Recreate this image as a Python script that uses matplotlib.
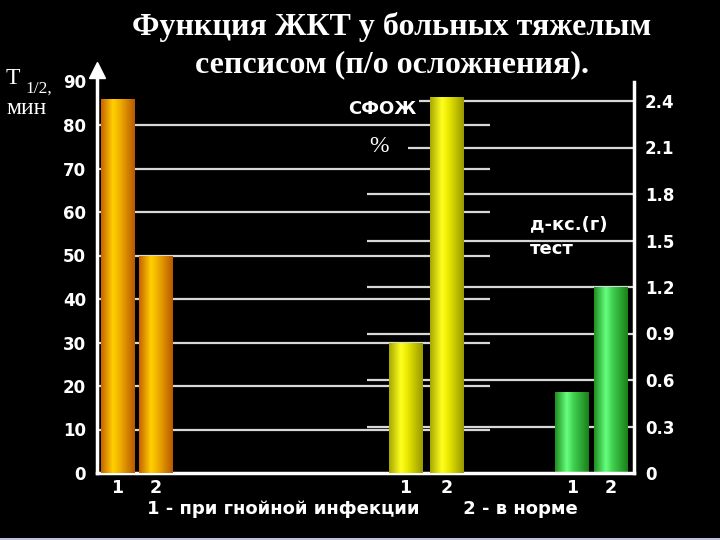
import numpy as np
import matplotlib
matplotlib.use("Agg")
import matplotlib.pyplot as plt
from matplotlib.colors import LinearSegmentedColormap
from matplotlib.patches import Rectangle

# ---- data ----
title_lines = ["Функция ЖКТ у больных тяжелым", "сепсисом (п/о осложнения)."]
bar_labels = ["1", "2"]
t_half_min = [86, 50]          # T1/2, мин (left axis)
sfozh_pct = [30, 86.5]         # СФОЖ, %
dks_test = [0.52, 1.2]         # д-кс.(г) тест (right axis)
left_ticks = [0, 10, 20, 30, 40, 50, 60, 70, 80, 90]
right_ticks = [0, 0.3, 0.6, 0.9, 1.2, 1.5, 1.8, 2.1, 2.4]
right_tick_labels = ["0", "0.3", "0.6", "0.9", "1.2", "1.5", "1.8", "2.1", "2.4"]
legend_text = "1 - при гнойной инфекции       2 - в норме"

# ---- layout (pixel based) ----
W, H = 720, 540
x0, x1 = 97, 634          # axis x extent in px
ybot, ytop = 473, 70      # axes bottom / top in px
left_px_per_unit = 4.35
right_px_per_unit = 155.0

fig = plt.figure(figsize=(7.2, 5.4), dpi=100, facecolor="black")
ax = fig.add_axes([x0 / W, 1 - ybot / H, (x1 - x0) / W, (ybot - ytop) / H])
ax2 = ax.twinx()
ax.set_zorder(ax2.get_zorder() + 1)
ax.patch.set_visible(False)
ax2.set_facecolor("black")

width = 34
pos_orange = [20.5, 58.5]
pos_yellow = [308.5, 349.5]
pos_green = [475, 513.5]

def grad_bars(axis, xs, vals, colors):
    cmap = LinearSegmentedColormap.from_list("g", list(zip([0, 0.35, 0.55, 1], colors)))
    grad = np.linspace(0, 1, 64).reshape(1, -1)
    for x, v in zip(xs, vals):
        b = axis.bar(x, v, width=width, color="none", edgecolor="none", zorder=3)[0]
        im = axis.imshow(grad, cmap=cmap, aspect="auto", zorder=3,
                         extent=[b.get_x(), b.get_x() + b.get_width(), 0, b.get_height()])
        im.set_clip_path(b)

# gridlines
grid_c = "#d8d8d8"
ax.hlines(left_ticks[1:-1], 0, 490 - x0, color=grid_c, lw=1.6, zorder=1)
ax2.hlines(right_ticks[1:], 367 - x0, x1 - x0, color=grid_c, lw=1.6, zorder=1)

grad_bars(ax, pos_orange, t_half_min, ["#c86400", "#ffd000", "#f0b000", "#b85a00"])
grad_bars(ax, pos_yellow, sfozh_pct, ["#a8a800", "#ffff20", "#e8e800", "#9a9a00"])
grad_bars(ax2, pos_green, dks_test, ["#209020", "#66ff80", "#40d050", "#1a801a"])
ax.set_xlim(0, x1 - x0)
ax.set_ylim(0, (ybot - ytop) / left_px_per_unit)
ax2.set_ylim(0, (ybot - ytop) / right_px_per_unit)

sans = "DejaVu Sans"
# spines
for a in (ax, ax2):
    for s in a.spines.values():
        s.set_visible(False)
ax.spines["left"].set_visible(True)
ax.spines["left"].set_color("white")
ax.spines["left"].set_linewidth(2.5)
ax.spines["bottom"].set_visible(True)
ax.spines["bottom"].set_color("white")
ax.spines["bottom"].set_linewidth(2.5)
ax2.spines["right"].set_visible(True)
ax2.spines["right"].set_color("white")
ax2.spines["right"].set_linewidth(2.5)
ax2.spines["right"].set_bounds(0, (ybot - 82) / right_px_per_unit)
ax.plot([0], [1], marker="^", markersize=11, color="white", transform=ax.transAxes,
        clip_on=False, zorder=5)

ax.set_yticks(left_ticks)
ax.set_yticklabels([str(t) for t in left_ticks], fontfamily=sans, fontweight="bold")
ax.tick_params(axis="y", length=0, pad=8, labelcolor="white", labelsize=12)
ax2.set_yticks(right_ticks)
ax2.set_yticklabels(right_tick_labels, fontfamily=sans, fontweight="bold")
ax2.tick_params(axis="y", length=0, pad=8, labelcolor="white", labelsize=12)
ax.set_xticks(pos_orange + pos_yellow + pos_green)
ax.set_xticklabels(bar_labels * 3, fontfamily=sans, fontweight="bold")
ax.tick_params(axis="x", length=0, pad=4, labelcolor="white", labelsize=12.5)

# texts
serif = "Liberation Serif"
fig.text(392 / W, 1 - 27 / H, title_lines[0], ha="center", va="center", color="white",
         fontfamily=serif, fontweight="bold", fontsize=23)
fig.text(392 / W, 1 - 65 / H, title_lines[1], ha="center", va="center", color="white",
         fontfamily=serif, fontweight="bold", fontsize=23)
fig.text(6 / W, 1 - 79 / H, "T", ha="left", va="center", color="white",
         fontfamily=serif, fontsize=17)
fig.text(25 / W, 1 - 89 / H, "1/2,", ha="left", va="center", color="white",
         fontfamily=serif, fontsize=12.5)
fig.text(6 / W, 1 - 109 / H, "мин", ha="left", va="center", color="white",
         fontfamily=serif, fontsize=17)
fig.text(382 / W, 1 - 109 / H, "СФОЖ", ha="center", va="center", color="white",
         fontfamily=sans, fontweight="bold", fontsize=13,
         bbox=dict(facecolor="black", edgecolor="none", pad=2), zorder=10)
fig.add_artist(Rectangle((362 / W, 1 - 158 / H), 46 / W, 22 / H, transform=fig.transFigure,
                         facecolor="black", edgecolor="none", zorder=9))
fig.text(379 / W, 1 - 146 / H, "%", ha="center", va="center", color="white",
         fontfamily=serif, fontsize=17, zorder=10)
fig.text(530 / W, 1 - 224 / H, "д-кс.(г)", ha="left", va="center", color="white",
         fontfamily=sans, fontweight="bold", fontsize=13)
fig.text(530 / W, 1 - 249 / H, "тест", ha="left", va="center", color="white",
         fontfamily=sans, fontweight="bold", fontsize=13)
fig.text(362 / W, 1 - 509 / H, legend_text, ha="center", va="center", color="white",
         fontfamily=sans, fontweight="bold", fontsize=13)
fig.add_artist(Rectangle((0, 0), 1, 2.5 / H, transform=fig.transFigure,
                         facecolor="#c0c0e0", edgecolor="none"))

fig.savefig("out.png", dpi=100, facecolor="black")
